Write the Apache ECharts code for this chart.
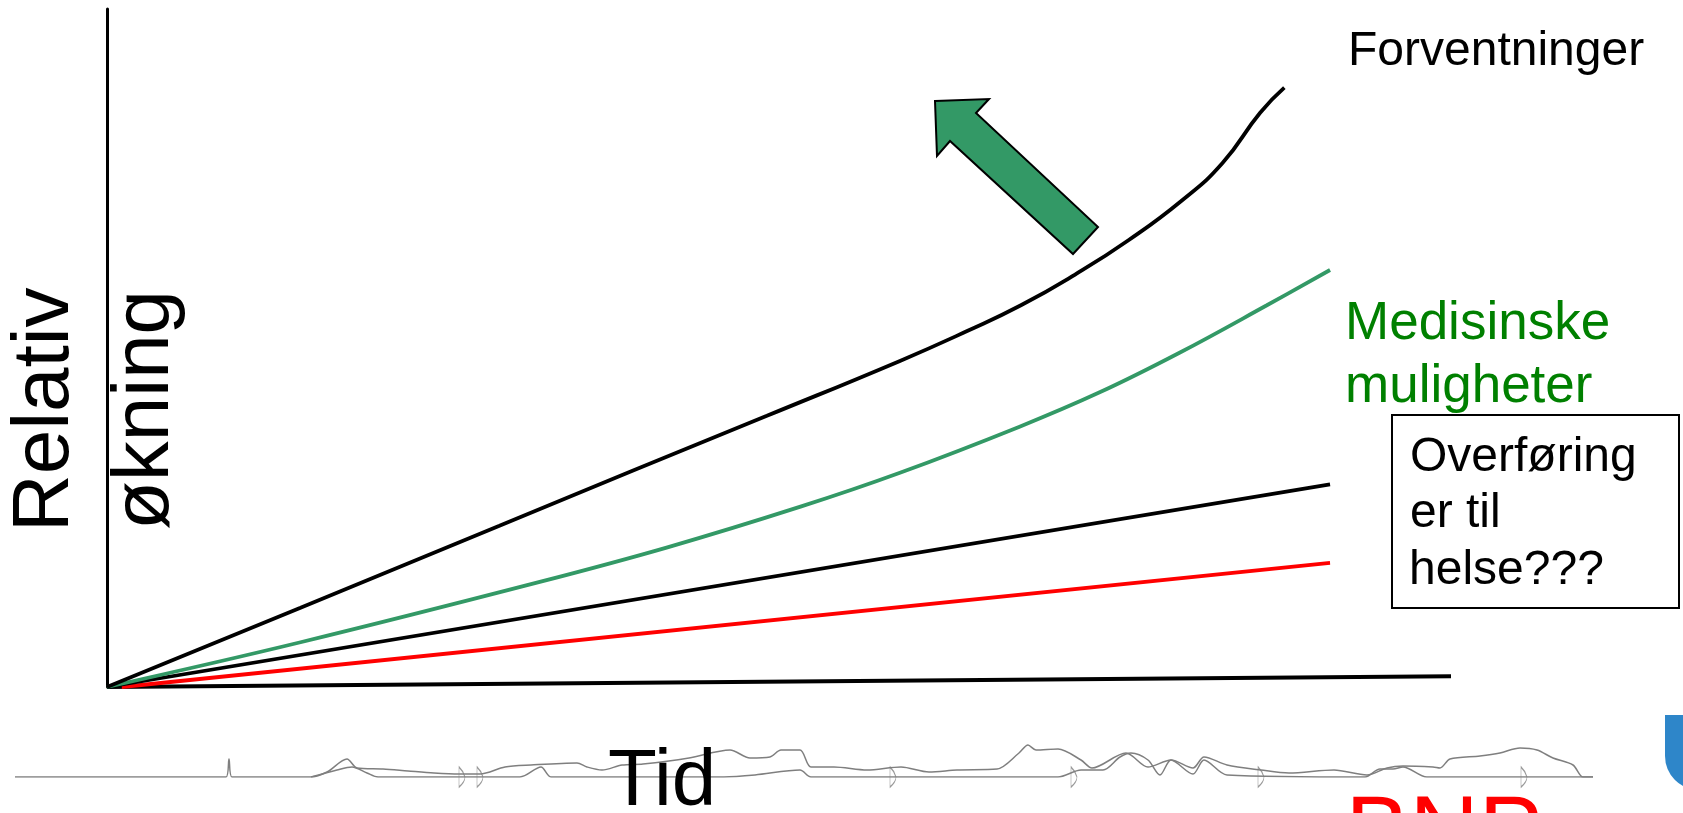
<!DOCTYPE html>
<html>
<head>
<meta charset="utf-8">
<script src="https://cdn.jsdelivr.net/npm/echarts@6/dist/echarts.min.js"></script>
<style>
html,body{margin:0;padding:0;background:#fff;}
#chart{width:1683px;height:813px;}
</style>
</head>
<body>
<div id="chart"></div>
<script>
// ---- data (x = Tid 0..100, y = Relativ økning 0..100) ----
const forventninger = [[0,0],[14.4,11.7],[29.2,23.8],[39.1,31.9],[49.1,40.0],[59.0,48.1],[64,52.5],[68,56.3],[72,60.8],[76,65.9],[80,71.8],[83,77.3],[85.8,84.7],[87.6,88.4]];
const medisinske = [[0,0],[14.4,6.6],[32.2,15.5],[41.7,20.6],[51.6,26.6],[59.0,31.6],[67.9,38.4],[73.9,43.5],[79.8,49.3],[86.3,56.3],[91.0,61.5]];
const overforing = [[0,0],[91.0,29.9]];
const bnp = [[1.1,0],[91.0,18.3]];
const tidAkse = [[0,0],[100,1.6]];

// decorative skyline (x in px-like units 0..1683, height above waterline)
const skylineBack = [[15,0],[226,0],[229,18],[232,0],[311,0],[327,5],[347,18],[357,9],[383,8],[408,6],[434,4],[459,3],[480,3],[505,10],[531,12],[577,14],[587,10],[602,7],[622,12],[643,13],[689,19],[730,27],[750,19],[770,20],[781,27],[800,27],[811,10],[834,10],[867,7],[901,10],[929,5],[957,7],[997,8],[1019,24],[1028,32],[1036,27],[1058,28],[1081,17],[1092,9],[1126,24],[1148,10],[1171,17],[1193,9],[1204,20],[1227,12],[1261,7],[1289,4],[1334,7],[1367,2],[1387,9],[1403,11],[1433,10],[1440,9],[1450,18],[1480,21],[1500,24],[1520,29],[1537,27],[1553,19],[1573,12],[1583,0],[1593,0]];
const skylineFront = [[311,0],[337,7],[352,10],[367,4],[378,0],[520,0],[541,10],[551,0],[724,0],[755,2],[800,7],[811,0],[1058,0],[1081,7],[1103,7],[1120,20],[1131,24],[1148,17],[1160,2],[1171,17],[1193,3],[1204,17],[1227,2],[1365,0],[1380,8],[1393,8],[1403,10],[1427,0],[1593,0]];
const sails = [[462,0],[480,0],[893,0],[1074,0],[1261,0],[1524,0]];

const FONT = '"Liberation Sans", Arial, sans-serif';
const chart = echarts.init(document.getElementById('chart'), null, {renderer:'canvas'});

chart.setOption({
  backgroundColor: '#ffffff',
  animation: false,
  grid: [
    {left:107, top:9, right:232, bottom:126},
    {left:0, top:739, right:0, bottom:36}
  ],
  xAxis: [
    {gridIndex:0, type:'value', min:0, max:100, axisLine:{show:false}, axisTick:{show:false}, axisLabel:{show:false}, splitLine:{show:false}},
    {gridIndex:1, type:'value', min:0, max:1683, show:false}
  ],
  yAxis: [
    {gridIndex:0, type:'value', min:0, max:100, axisLine:{show:true, lineStyle:{color:'#000', width:3}}, axisTick:{show:false}, axisLabel:{show:false}, splitLine:{show:false}},
    {gridIndex:1, type:'value', min:0, max:38, show:false}
  ],
  series: [
    {type:'line', data:tidAkse, symbol:'none', lineStyle:{color:'#000', width:4}, z:2},
    {type:'line', data:bnp, symbol:'none', lineStyle:{color:'#ff0000', width:3.8}, z:3},
    {type:'line', data:overforing, symbol:'none', lineStyle:{color:'#000', width:3.8}, z:3},
    {type:'line', data:medisinske, symbol:'none', smooth:0.4, lineStyle:{color:'#339966', width:3.8}, z:3},
    {type:'line', data:forventninger, symbol:'none', smooth:0.5, lineStyle:{color:'#000', width:3.8}, z:4},
    {type:'line', xAxisIndex:1, yAxisIndex:1, data:skylineBack, symbol:'none', smooth:0.3, lineStyle:{color:'#7f7f7f', width:1.5}},
    {type:'line', xAxisIndex:1, yAxisIndex:1, data:skylineFront, symbol:'none', smooth:0.3, lineStyle:{color:'#7f7f7f', width:1.5}},
    {type:'scatter', xAxisIndex:1, yAxisIndex:1, data:sails, symbol:'path://M0,0 L0,20 Q7,15 7,10 Q5,4 0,0 Z', symbolSize:[6,20], itemStyle:{color:'#ffffff', borderColor:'#7f7f7f', borderWidth:1}}
  ],
  graphic: [
    {type:'polygon', shape:{points:[[935,101],[989,99],[976,113],[1098,227],[1073,254],[950,141],[937,156]]}, style:{fill:'#339966', stroke:'#000', lineWidth:2}, z:10},
    {type:'text', x:1348, y:52, style:{text:'Forventninger', font:'48px '+FONT, fill:'#000', textAlign:'left', textVerticalAlign:'middle'}},
    {type:'text', x:1345, y:324, style:{text:'Medisinske', font:'53px '+FONT, fill:'#008000', textAlign:'left', textVerticalAlign:'middle'}},
    {type:'text', x:1345, y:387, style:{text:'muligheter', font:'53px '+FONT, fill:'#008000', textAlign:'left', textVerticalAlign:'middle'}},
    {type:'rect', shape:{x:1392, y:415, width:287, height:193}, style:{fill:'#ffffff', stroke:'#000', lineWidth:2}, z:5},
    {type:'text', x:1410, y:457.5, z:6, style:{text:'Overføring', font:'48px '+FONT, fill:'#000', textAlign:'left', textVerticalAlign:'middle'}},
    {type:'text', x:1410, y:514, z:6, style:{text:'er til', font:'48px '+FONT, fill:'#000', textAlign:'left', textVerticalAlign:'middle'}},
    {type:'text', x:1409, y:571, z:6, style:{text:'helse???', font:'48px '+FONT, fill:'#000', textAlign:'left', textVerticalAlign:'middle'}},
    {type:'text', x:46, y:532, rotation:Math.PI/2, style:{text:'Relativ', font:'80px '+FONT, fill:'#000', textAlign:'left', textVerticalAlign:'middle'}},
    {type:'text', x:146, y:530, rotation:Math.PI/2, style:{text:'økning', font:'80px '+FONT, fill:'#000', textAlign:'left', textVerticalAlign:'middle'}},
    {type:'text', x:608, y:783, z:6, style:{text:'Tid', font:'80px '+FONT, fill:'#000', textAlign:'left', textVerticalAlign:'middle'}},
    {type:'text', x:1345.5, y:837, style:{text:'BNP', font:'96px '+FONT, fill:'#ff0000', textAlign:'left', textVerticalAlign:'middle'}},
    {type:'rect', shape:{x:1665, y:715, width:60, height:75, r:[0,0,0,34]}, style:{fill:'#2e86c9'}}
  ]
});
</script>
</body>
</html>
